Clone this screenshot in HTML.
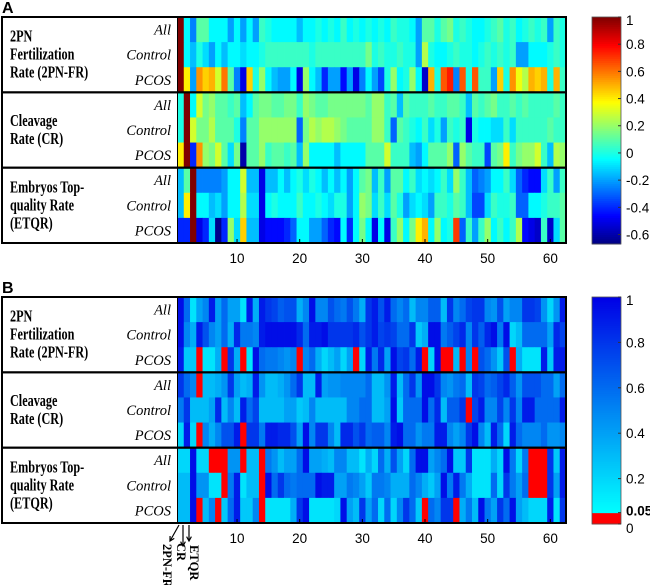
<!DOCTYPE html>
<html><head><meta charset="utf-8">
<style>
html,body{margin:0;padding:0;background:#fff;}
svg{display:block;}
.grp{font-family:"Liberation Serif",serif;font-weight:bold;font-size:16.5px;fill:#000;}
.row{font-family:"Liberation Serif",serif;font-style:italic;font-size:14.5px;fill:#000;}
.tk{font-family:"Liberation Sans",sans-serif;font-size:13.5px;fill:#000;}
.pl{font-family:"Liberation Sans",sans-serif;font-weight:bold;font-size:16px;fill:#000;}
.rot{font-family:"Liberation Serif",serif;font-weight:bold;font-size:12.5px;fill:#000;}
</style></head>
<body>
<svg id="chart" width="650" height="585" viewBox="0 0 650 585" xmlns="http://www.w3.org/2000/svg">
<g id="panelA"></g>
<g id="panelB"></g>
<text class="pl" x="2" y="13">A</text>
<text class="pl" x="2" y="293">B</text>
</svg>
<script>
const columns = Array.from({length:62},(_,i)=>i+1);
const rowLabels = ["All","Control","PCOS"];
const groupLabels = [["2PN","Fertilization","Rate (2PN-FR)"],["Cleavage","Rate (CR)"],["Embryos Top-","quality Rate","(ETQR)"]];
const xTicks = [10,20,30,40,50,60];
const ticksA = [1,0.8,0.6,0.4,0.2,0,-0.2,-0.4,-0.6];
const ticksB = [1,0.8,0.6,0.4,0.2,0.05,0];

const corrFR_All = [1,-0.05,-0.25,0.1,0.1,-0.05,-0.05,-0.05,-0.2,-0.05,-0.2,-0.05,-0.2,0.05,0,-0.05,-0.05,-0.05,-0.05,-0.15,-0.05,-0.05,0,-0.05,0,-0.05,0.05,-0.05,0,-0.05,0,
 -0.05,0,-0.05,0.05,0,0,-0.05,-0.2,0.1,0.1,0,0.1,0.15,0,0.05,0,-0.05,-0.05,0,0.05,0.1,0,0.05,-0.05,0,0.05,0,0.05,-0.2,0.05,0];
const corrFR_Control = [1,-0.05,-0.15,0,-0.1,-0.2,-0.05,-0.15,-0.05,-0.05,-0.1,-0.05,-0.05,0,0.05,0.05,0.05,0.05,0.05,0.05,0.05,0,0.05,0.05,0.05,0.05,0.05,0.05,0.05,0.05,0.15,
 0,0.05,0,0,0.05,0,0,-0.2,0.25,0,-0.05,-0.05,0,0.05,0,0,-0.05,0,0.05,0,0.05,0,0.05,-0.2,-0.2,-0.05,-0.05,-0.05,0,0.05,0];
const corrFR_PCOS = [1,0.4,-0.2,0.55,0.45,0.5,0.3,0.6,0.1,-0.25,-0.5,0.45,0,0.2,-0.05,-0.15,-0.2,-0.2,-0.05,-0.5,0.2,-0.05,-0.15,-0.4,-0.2,-0.2,-0.45,-0.2,-0.5,-0.25,-0.05,
 -0.2,-0.35,0,0.2,-0.05,0,0.2,-0.05,-0.55,0.5,0,0.65,0.75,-0.25,0.65,0,0.65,0.05,0.05,-0.2,0.45,0,0.55,0.35,0.25,0.5,0.45,0.5,0,0.5,0.05];
const corrCR_All = [0,1,-0.05,0.3,0.15,0.2,0.1,0.1,0.05,0.1,-0.15,-0.05,0.1,0.15,0.15,0.1,0.1,0.15,0.15,0.05,0.2,0.15,0.1,0.1,0.15,0.15,0.15,0.15,0.15,0.15,0.1,
 0.2,0.2,0.05,0.1,-0.15,0.1,0.05,0.05,0.05,0.1,0.05,0.05,0.1,0.1,0.05,-0.15,0.1,0.05,0.1,0.15,0.05,0.05,0.1,0.05,0.1,0.05,0.05,0.05,0.05,0.1,0.05];
const corrCR_Control = [0,1,0.3,0.15,0.15,0.25,0.1,0.1,0.1,0,-0.25,0.1,0.1,0.2,0.2,0.2,0.2,0.2,0.2,-0.3,0.15,0.25,0.2,0.25,0.25,0.2,0.15,0.1,0.1,0.1,0.1,
 0.2,0.2,0.05,-0.3,0.1,0.05,0,-0.05,0.05,-0.1,0,-0.2,0.05,0,0.05,-0.5,0,-0.05,-0.05,-0.1,-0.1,0.05,-0.1,0.05,0.05,0.05,0.05,0.05,0.1,0.05,0.05];
const corrCR_PCOS = [0.4,1,-0.4,0.55,0.2,0.15,0.3,0.1,-0.1,0.15,-0.6,0.1,0.1,0.2,0.05,0.1,0.1,0.05,0.1,-0.15,0.2,-0.05,-0.05,-0.05,-0.05,-0.15,-0.05,-0.05,-0.05,-0.05,0.1,
 0.1,0.1,0.3,0.05,0.05,0.05,-0.15,-0.2,-0.05,0.1,0.1,0.1,0.2,-0.3,0.2,0.1,0.05,0.05,-0.35,0.1,0.15,0.4,0.05,0.15,0.2,0.2,0.3,0.05,-0.15,0.25,0.2];
const corrET_All = [-0.15,0.1,1,-0.25,-0.25,-0.25,-0.25,-0.2,-0.05,-0.05,0.3,-0.15,-0.15,-0.5,-0.15,-0.15,-0.05,-0.15,-0.05,0,-0.1,0,-0.05,-0.15,-0.05,-0.15,-0.05,-0.2,-0.05,0.1,0.15,
 -0.15,0.05,-0.2,0.1,0.1,-0.05,0.05,-0.1,-0.05,-0.1,-0.05,0.05,-0.1,0.2,0.05,-0.15,-0.3,-0.25,-0.2,-0.05,-0.05,0.05,-0.1,-0.3,-0.4,-0.45,-0.45,-0.1,0.05,-0.2,0.05];
const corrET_Control = [-0.15,0.4,1,-0.05,-0.05,-0.15,-0.1,-0.2,-0.05,-0.05,0.25,-0.1,-0.1,-0.5,-0.05,0,-0.05,-0.05,-0.05,0.05,-0.05,-0.05,0,-0.05,-0.1,0,0,-0.2,-0.05,0.2,0.15,
 -0.1,0.05,-0.1,0.1,0,-0.2,-0.1,-0.05,-0.1,-0.2,0.05,0.05,0,0.1,0.05,-0.15,-0.35,-0.35,-0.1,0.05,0,0,0.05,-0.3,-0.3,-0.05,-0.05,0,0.05,0.05,0.1];
const corrET_PCOS = [-0.4,-0.4,1,-0.5,-0.4,-0.1,-0.65,-0.4,0.2,-0.1,0.45,-0.15,-0.15,-0.5,-0.45,-0.45,-0.45,-0.4,-0.3,-0.05,-0.05,-0.2,-0.2,-0.3,-0.4,-0.45,-0.05,-0.4,-0.05,0.15,-0.05,
 -0.5,-0.05,-0.5,0.05,0.2,-0.05,0.15,0.4,0.5,-0.05,0.2,-0.05,0,0.7,-0.3,0.05,-0.2,0.05,0.2,-0.05,0.05,-0.05,0.05,0.25,-0.45,-0.5,-0.55,0.05,-0.55,-0.1,0.1];

const pFR_All = [0.95,0.6,0.15,0.4,0.5,0.9,0.4,0.6,0.4,0.4,0.15,0.9,0.35,0.9,0.8,0.75,0.65,0.7,0.7,0.35,0.5,0.95,0.5,0.5,0.7,0.6,0.55,0.7,0.55,0.35,0.8,
 0.9,0.7,0.9,0.6,0.5,0.6,0.3,0.5,0.5,0.65,0.65,0.3,0.8,0.5,0.6,0.75,0.8,0.8,0.5,0.45,0.7,0.4,0.5,0.5,0.8,0.8,0.75,0.45,0.2,0.45,0.9];
const pFR_Control = [0.95,0.5,0.35,0.9,0.7,0.5,0.4,0.6,0.35,0.85,0.55,0.55,0.5,0.9,0.95,0.95,0.95,0.95,0.95,0.85,0.6,0.9,0.9,0.95,0.8,0.8,0.8,0.8,0.85,0.7,0.8,
 0.9,0.75,0.8,0.75,0.6,0.6,0.8,0.25,0.35,0.95,0.95,0.55,0.65,0.75,0.85,0.5,0.8,0.65,0.85,0.95,0.55,0.95,0.2,0.3,0.6,0.6,0.6,0.6,0.4,0.85,0.75];
const pFR_PCOS = [0.9,0.25,0.25,0.02,0.15,0.15,0.35,0.02,0.8,0.35,0.02,0.15,0.95,0.6,0.55,0.55,0.5,0.45,0.5,0.02,0.5,0.6,0.35,0.2,0.3,0.4,0.2,0.4,0.02,0.2,0.9,
 0.55,0.85,0.4,0.95,0.75,0.8,0.6,0.9,0.02,0.2,0.95,0.02,0.02,0.3,0.02,0.5,0.02,0.7,0.6,0.45,0.25,0.7,0.02,0.35,0.15,0.15,0.15,0.9,0.25,0.9,0.9];
const pCR_All = [0.8,0.6,0.5,0.02,0.3,0.3,0.35,0.45,0.8,0.4,0.3,0.35,0.9,0.45,0.3,0.3,0.35,0.45,0.6,0.8,0.3,0.3,0.9,0.4,0.45,0.45,0.5,0.5,0.5,0.5,0.6,
 0.3,0.3,0.45,0.9,0.3,0.6,0.8,0.45,0.95,0.95,0.8,0.5,0.45,0.55,0.6,0.3,0.8,0.75,0.6,0.65,0.75,0.85,0.65,0.45,0.7,0.7,0.7,0.6,0.6,0.4,0.6];
const pCR_Control = [0.55,0.8,0.3,0.3,0.3,0.4,0.85,0.3,0.5,0.3,0.9,0.6,0.75,0.3,0.3,0.3,0.3,0.4,0.4,0.25,0.3,0.5,0.3,0.3,0.3,0.3,0.3,0.5,0.5,0.6,0.6,
 0.3,0.3,0.4,0.95,0.25,0.6,0.6,0.6,0.95,0.6,0.85,0.3,0.65,0.65,0.8,0.02,0.75,0.9,0.5,0.5,0.75,0.5,0.8,0.5,0.9,0.9,0.6,0.6,0.6,0.6,0.9];
const pCR_PCOS = [0.2,0.9,0.2,0.02,0.5,0.35,0.5,0.7,0.7,0.9,0.02,0.8,0.8,0.55,0.9,0.9,0.85,0.85,0.7,0.4,0.95,0.5,0.8,0.8,0.5,0.3,0.85,0.85,0.7,0.8,0.6,
 0.65,0.65,0.5,0.9,0.95,0.6,0.6,0.45,0.55,0.55,0.9,0.9,0.5,0.4,0.5,0.8,0.95,0.5,0.3,0.9,0.6,0.2,0.9,0.6,0.5,0.5,0.5,0.6,0.45,0.45,0.5];
const pET_All = [0.2,0.2,0.95,0.2,0.2,0.02,0.02,0.02,0.45,0.45,0.02,0.3,0.3,0.02,0.55,0.45,0.3,0.4,0.4,0.6,0.95,0.4,0.4,0.35,0.3,0.5,0.5,0.3,0.3,0.15,0.35,
 0.2,0.6,0.35,0.7,0.4,0.2,0.6,0.95,0.95,0.4,0.5,0.6,0.95,0.25,0.25,0.8,0.15,0.15,0.15,0.35,0.2,0.95,0.55,0.2,0.55,0.02,0.02,0.02,0.8,0.25,0.9];
const pET_Control = [0.3,0.3,0.95,0.45,0.45,0.15,0.15,0.02,0.55,0.9,0.15,0.3,0.3,0.02,0.95,0.6,0.8,0.6,0.55,0.6,0.6,0.6,0.95,0.9,0.9,0.4,0.4,0.55,0.5,0.4,0.25,
 0.55,0.55,0.5,0.35,0.35,0.35,0.6,0.5,0.35,0.25,0.4,0.95,0.55,0.9,0.55,0.35,0.15,0.15,0.15,0.6,0.2,0.8,0.55,0.4,0.6,0.02,0.02,0.02,0.8,0.4,0.9];
const pET_PCOS = [0.3,0.3,0.95,0.02,0.3,0.5,0.02,0.25,0.6,0.9,0.25,0.25,0.5,0.02,0.15,0.15,0.15,0.15,0.35,0.8,0.95,0.15,0.15,0.15,0.15,0.2,0.95,0.4,0.3,0.8,0.4,
 0.6,0.2,0.6,0.2,0.5,0.8,0.6,0.25,0.02,0.6,0.5,0.8,0.8,0.02,0.35,0.55,0.3,0.95,0.55,0.4,0.8,0.6,0.95,0.4,0.3,0.2,0.2,0.2,0.9,0.15,0.8];

const rowsA = [corrFR_All,corrFR_Control,corrFR_PCOS,corrCR_All,corrCR_Control,corrCR_PCOS,corrET_All,corrET_Control,corrET_PCOS];
const rowsB = [pFR_All,pFR_Control,pFR_PCOS,pCR_All,pCR_Control,pCR_PCOS,pET_All,pET_Control,pET_PCOS];

const NS="http://www.w3.org/2000/svg";
function mk(tag,attrs,parent){const e=document.createElementNS(NS,tag);for(const k in attrs)e.setAttribute(k,attrs[k]);parent.appendChild(e);return e;}
const clamp=v=>Math.max(0,Math.min(1,v));
function jet(v){const t=clamp((v+0.67)/1.67);
  const r=clamp(1.5-Math.abs(4*t-3)),g=clamp(1.5-Math.abs(4*t-2)),b=clamp(1.5-Math.abs(4*t-1));
  return `rgb(${Math.round(r*255)},${Math.round(g*255)},${Math.round(b*255)})`;}
function pcol(v){if(v<0.05)return "rgb(255,0,0)";const t=clamp((v-0.05)/0.95);
  return `rgb(0,${Math.round(255*(1-t))},${Math.round(255-25*t)})`;}

const X0=177.5,X1=566,cw=(X1-X0)/62;
const xPos=c=>X0+(c-1)*cw;

function panel(g,top,bot,rows,colorFn,tickVals,vmin,vmax,isB){
  const gh=(bot-top)/3, rh=gh/3;
  const yPos=r=>top+Math.floor(r/3)*gh+(r%3)*rh;
  rows.forEach((row,r)=>{
    columns.forEach((c,i)=>{
      const cell=mk('rect',{x:xPos(c),y:yPos(r),width:cw+0.4,height:rh+0.4,fill:colorFn(row[i])},g);
      
      
    });
  });
  for(let k=0;k<3;k++){
    const gy=top+k*gh;
    const box=mk('rect',{x:2,y:gy,width:X1-2,height:gh,fill:'none',stroke:'#000','stroke-width':2},g);
    
    
    const lines=groupLabels[k];
    const lh=18, start=gy+gh/2-(lines.length-1)*lh/2+5;
    lines.forEach((s,j)=>{
      const t=mk('text',{x:0,y:0,class:'grp',transform:`translate(10 ${start+j*lh}) scale(0.74 1)`},g);t.textContent=s;
      
      
    });
    rowLabels.forEach((s,j)=>{
      const t=mk('text',{x:171,y:gy+(j+0.5)*rh+5,class:'row','text-anchor':'end'},g);t.textContent=s;
      
      
    });
  }
  const wl=mk('line',{x1:X0,y1:top,x2:X0,y2:bot,stroke:'#000','stroke-width':1},g);
  
  
  xTicks.forEach(v=>{
    const x=xPos(v)+cw/2;
    const tm=mk('line',{x1:x,y1:bot,x2:x,y2:bot-4,stroke:'#000'},g);
    
    
    const t=mk('text',{x:x,y:bot+20,class:'tk','text-anchor':'middle'},g);t.textContent=v;
    
    
  });
  const cx=592,cwid=29,ctop=top,cbot=bot+1;
  const cy=v=>cbot-(v-vmin)/(vmax-vmin)*(cbot-ctop);
  const n=120;
  for(let i=0;i<n;i++){
    const v0=vmin+(vmax-vmin)*i/n, v1=vmin+(vmax-vmin)*(i+1)/n;
    const s=mk('rect',{x:cx,y:cy(v1),width:cwid,height:cy(v0)-cy(v1)+0.5,fill:colorFn((v0+v1)/2)},g);
    
    
  }
  const cb=mk('rect',{x:cx,y:ctop,width:cwid,height:cbot-ctop,fill:'none',stroke:'#555','stroke-width':0.8},g);
  
  
  tickVals.forEach(v=>{
    const y=cy(v);
    const tl=mk('line',{x1:cx+cwid-3,y1:y,x2:cx+cwid,y2:y,stroke:'#333'},g);
    
    
    let ty=y+5;
    if(isB&&v===0.05)ty=y+3; if(isB&&v===0)ty=y+9; if(v===vmax)ty=y+8;
    const t=mk('text',{x:626,y:ty,class:'tk','font-weight':(isB&&v===0.05)?'bold':'normal'},g);t.textContent=String(v);
    
    
  });
}
panel(document.getElementById('panelA'),17,243,rowsA,jet,ticksA,-0.67,1,false);
panel(document.getElementById('panelB'),297,523,rowsB,pcol,ticksB,0,1,true);

const gB=document.getElementById('panelB');
const arrows=[[179,525,170,541],[183,525,183,546],[189,525,189,541]];
arrows.forEach(a=>{
  const l=mk('line',{x1:a[0],y1:a[1],x2:a[2],y2:a[3],stroke:'#000','stroke-width':1.2},gB);
  
  
  const ang=Math.atan2(a[3]-a[1],a[2]-a[0]);
  const hx=a[2],hy=a[3],L=5;
  const p=mk('polyline',{points:`${hx-L*Math.cos(ang-0.5)},${hy-L*Math.sin(ang-0.5)} ${hx},${hy} ${hx-L*Math.cos(ang+0.5)},${hy-L*Math.sin(ang+0.5)}`,fill:'none',stroke:'#000','stroke-width':1.2},gB);
  
  
});
[["2PN-FR",163,544],["CR",177,543],["ETQR",190,545]].forEach(d=>{
  const t=mk('text',{x:d[1],y:d[2],class:'rot',transform:`rotate(90 ${d[1]} ${d[2]})`},gB);t.textContent=d[0];
  
  
});
</script>
</body></html>
